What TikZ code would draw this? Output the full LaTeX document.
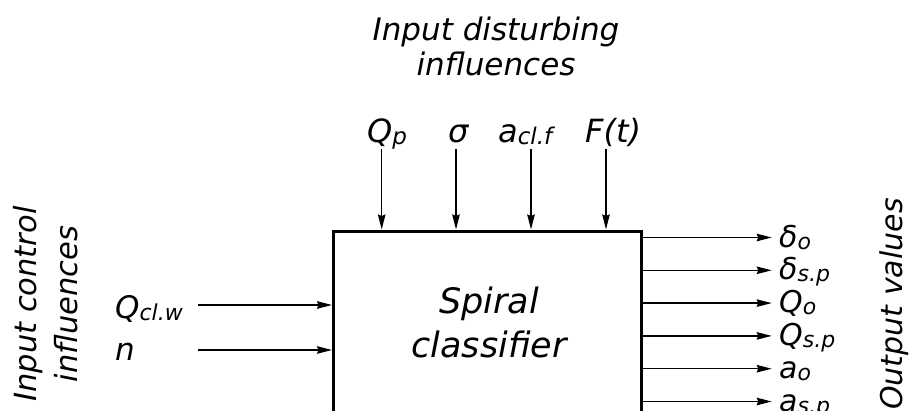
\documentclass[tikz,border=0pt]{standalone}
\usepackage{fontspec}
\setmainfont{DejaVu Sans}
\usetikzlibrary{arrows.meta}
\newcommand{\fs}[2]{\fontsize{#1}{#2}\selectfont}
\newcommand{\sbx}[2]{\raisebox{-2pt}{\fs{#1}{#1}#2}}
\begin{document}
\begin{tikzpicture}[x=1pt,y=1pt,
  arr/.style={line width=1.4pt,-{Stealth[length=15pt,width=7.5pt,inset=1.5pt]}},
  toplbl/.style={font=\itshape\fs{32}{32},inner sep=0pt,anchor=base west},
  outlbl/.style={font=\itshape\fs{30}{30},inner sep=0pt,anchor=base west},
  heading/.style={font=\itshape\fs{31}{35},align=center,inner sep=0pt}]
\useasboundingbox (0,0) rectangle (909,410);
\fill[white] (0,0) rectangle (909,410);
\clip (0,0) rectangle (909,410);

% main block (cut off at the bottom edge)
\node[draw,line width=3pt,minimum width=307.5pt,minimum height=260pt,inner sep=0pt] (box) at (487.25,49) {};
\node[font=\itshape\fs{35}{44},align=center,inner sep=0pt] (name) at (489,88) {Spiral\\classifier};

% headings
\node[heading] (dist) at (496,364) {Input disturbing\\influences};
\node[font=\itshape\fs{30.5}{41},align=center,inner sep=0pt,rotate=90] (ctrl) at (46,106) {Input control\\influences};
\node[font=\itshape\fs{30}{30},inner sep=0pt,rotate=90,anchor=base] (outv) at (902,106) {Output values};

% disturbing inputs
\node[toplbl] (qp) at (367,267) {Q\sbx{23}{p}};
\node[toplbl] (sig) at (448,267) {σ};
\node[toplbl] (acl) at (498,267) {a\sbx{23}{cl.f}};
\node[toplbl] (ft) at (585,267) {F(t)};
\coordinate (t1) at (381.7,261);
\coordinate (t2) at (456,261);
\coordinate (t3) at (531,261);
\coordinate (t4) at (606,261);
\foreach \c in {t1,t2,t3,t4}{\draw[arr] (\c) -- (\c |- box.north);}

% control inputs
\node[font=\itshape\fs{31}{31},inner sep=0pt,anchor=base west] (qcl) at (115,92) {Q\sbx{22}{cl.w}};
\node[font=\itshape\fs{31}{31},inner sep=0pt,anchor=base west] (nn) at (115,50) {n};
\coordinate (l1) at (198,105);
\coordinate (l2) at (198,60);
\foreach \c in {l1,l2}{\draw[arr] (\c) -- (\c -| box.west);}

% outputs
\coordinate (r1) at (771.7,172.5);
\coordinate (r2) at (771.7,139.7);
\coordinate (r3) at (771.7,106.9);
\coordinate (r4) at (771.7,74.1);
\coordinate (r5) at (771.7,41.3);
\coordinate (r6) at (771.7,8.5);
\foreach \c in {r1,r2,r3,r4,r5,r6}{\draw[arr] (box.east |- \c) -- (\c);}
\node[outlbl] (o1) at (779,163) {δ\sbx{22}{o}};
\node[outlbl] (o2) at (779,130.2) {δ\sbx{22}{s.p}};
\node[outlbl] (o3) at (779,97.4) {Q\sbx{22}{o}};
\node[outlbl] (o4) at (779,64.6) {Q\sbx{22}{s.p}};
\node[outlbl] (o5) at (779,31.8) {a\sbx{22}{o}};
\node[outlbl] (o6) at (779,-1) {a\sbx{22}{s.p}};
\end{tikzpicture}
\end{document}
